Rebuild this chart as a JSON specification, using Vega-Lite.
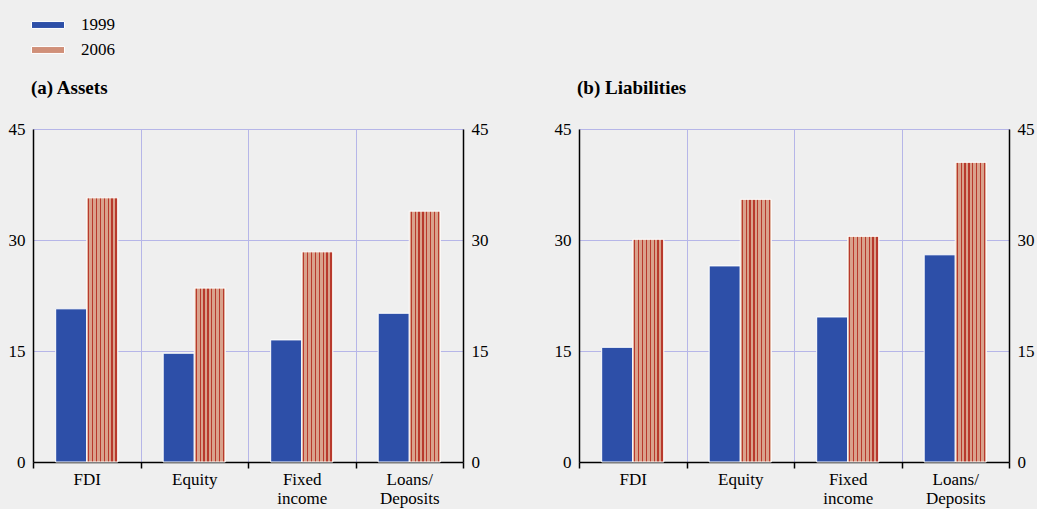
{
  "$schema": "https://vega.github.io/schema/vega-lite/v6.json",
  "background": "#efefef",
  "padding": {"left": 8, "top": 8, "right": 8, "bottom": 6},
  "autosize": {"type": "pad"},
  "config": {
    "view": {"stroke": null},
    "font": "Liberation Serif",
    "axis": {
      "labelFont": "Liberation Serif",
      "labelFontSize": 17,
      "labelColor": "black",
      "domainColor": "black",
      "gridColor": "#b6b6e8",
      "title": null
    }
  },
  "data": {
    "values": [
      {"panel": "Assets", "cat": "FDI", "year": "1999", "value": 20.7},
      {"panel": "Assets", "cat": "FDI", "year": "2006", "value": 35.7},
      {"panel": "Assets", "cat": "Equity", "year": "1999", "value": 14.7},
      {"panel": "Assets", "cat": "Equity", "year": "2006", "value": 23.5},
      {"panel": "Assets", "cat": "Fixed income", "year": "1999", "value": 16.5},
      {"panel": "Assets", "cat": "Fixed income", "year": "2006", "value": 28.4},
      {"panel": "Assets", "cat": "Loans/Deposits", "year": "1999", "value": 20.1},
      {"panel": "Assets", "cat": "Loans/Deposits", "year": "2006", "value": 33.9},
      {"panel": "Liabilities", "cat": "FDI", "year": "1999", "value": 15.5},
      {"panel": "Liabilities", "cat": "FDI", "year": "2006", "value": 30.1},
      {"panel": "Liabilities", "cat": "Equity", "year": "1999", "value": 26.5},
      {"panel": "Liabilities", "cat": "Equity", "year": "2006", "value": 35.5},
      {"panel": "Liabilities", "cat": "Fixed income", "year": "1999", "value": 19.6},
      {"panel": "Liabilities", "cat": "Fixed income", "year": "2006", "value": 30.5},
      {"panel": "Liabilities", "cat": "Loans/Deposits", "year": "1999", "value": 28.0},
      {"panel": "Liabilities", "cat": "Loans/Deposits", "year": "2006", "value": 40.5}
    ]
  },
  "spacing": 66,
  "hconcat": [
    {
      "width": 430,
      "height": 333,
      "transform": [{"filter": "datum.panel === 'Assets'"}],
      "title": {
        "text": "(a) Assets",
        "anchor": "start",
        "frame": "group",
        "offset": 7,
        "baseline": "alphabetic",
        "dx": -2,
        "font": "Liberation Serif",
        "fontSize": 19,
        "fontWeight": "bold",
        "color": "black"
      },
      "layer": [
        {
          "mark": {"type": "bar", "stroke": "white", "strokeWidth": 1},
          "encoding": {
            "x": {
              "field": "cat",
              "type": "nominal",
              "sort": ["FDI", "Equity", "Fixed income", "Loans/Deposits"],
              "scale": {"paddingInner": 0, "paddingOuter": 0},
              "axis": {
                "labelAngle": 0,
                "tickBand": "extent",
                "grid": true,
                "ticks": true,
                "tickColor": "black",
                "tickSize": 6,
                "tickWidth": 1.5,
                "domainWidth": 1.5,
                "labelPadding": 3,
                "labelLineHeight": 19,
                "labelExpr": "datum.label === 'Fixed income' ? ['Fixed', 'income'] : datum.label === 'Loans/Deposits' ? ['Loans/', 'Deposits'] : datum.label"
              }
            },
            "xOffset": {
              "field": "year",
              "type": "nominal",
              "scale": {"paddingInner": 0, "paddingOuter": 0.73}
            },
            "y": {
              "field": "value",
              "type": "quantitative",
              "scale": {"domain": [0, 45], "nice": false},
              "axis": {
                "orient": "left",
                "values": [0, 15, 30, 45],
                "grid": true,
                "ticks": false,
                "domainWidth": 1.5,
                "labelPadding": 8
              }
            },
            "fill": {
              "condition": {
                "test": "datum.year === '2006'",
                "value": {
                  "gradient": "linear", "x1": 0, "y1": 0, "x2": 1, "y2": 0,
                  "stops": [
                    {"offset": 0, "color": "#d9a28c"}, {"offset": 0.045, "color": "#d9a28c"},
                    {"offset": 0.045, "color": "#b8392c"}, {"offset": 0.085, "color": "#b8392c"},
                    {"offset": 0.085, "color": "#d9a28c"}, {"offset": 0.17, "color": "#d9a28c"},
                    {"offset": 0.17, "color": "#b8392c"}, {"offset": 0.21, "color": "#b8392c"},
                    {"offset": 0.21, "color": "#d9a28c"}, {"offset": 0.295, "color": "#d9a28c"},
                    {"offset": 0.295, "color": "#b8392c"}, {"offset": 0.335, "color": "#b8392c"},
                    {"offset": 0.335, "color": "#d9a28c"}, {"offset": 0.42, "color": "#d9a28c"},
                    {"offset": 0.42, "color": "#b8392c"}, {"offset": 0.46, "color": "#b8392c"},
                    {"offset": 0.46, "color": "#d9a28c"}, {"offset": 0.545, "color": "#d9a28c"},
                    {"offset": 0.545, "color": "#b8392c"}, {"offset": 0.585, "color": "#b8392c"},
                    {"offset": 0.585, "color": "#d9a28c"}, {"offset": 0.67, "color": "#d9a28c"},
                    {"offset": 0.67, "color": "#b8392c"}, {"offset": 0.71, "color": "#b8392c"},
                    {"offset": 0.71, "color": "#d9a28c"}, {"offset": 0.795, "color": "#d9a28c"},
                    {"offset": 0.795, "color": "#b8392c"}, {"offset": 0.835, "color": "#b8392c"},
                    {"offset": 0.835, "color": "#d9a28c"}, {"offset": 0.92, "color": "#d9a28c"},
                    {"offset": 0.92, "color": "#b8392c"}, {"offset": 0.96, "color": "#b8392c"},
                    {"offset": 0.96, "color": "#d9a28c"}, {"offset": 1, "color": "#d9a28c"}
                  ]
                }
              },
              "value": "#2d4fa8"
            }
          }
        },
        {
          "mark": {"type": "point", "opacity": 0, "filled": true},
          "encoding": {
            "y": {
              "field": "value",
              "type": "quantitative",
              "scale": {"domain": [0, 45], "nice": false},
              "axis": {
                "orient": "right",
                "values": [0, 15, 30, 45],
                "grid": false,
                "ticks": false,
                "domainWidth": 1.5,
                "labelPadding": 8
              }
            },
            "color": {
              "field": "year",
              "type": "nominal",
              "scale": {"domain": ["1999", "2006"], "range": ["#2d4fa8", "#d09079"]},
              "legend": {
                "orient": "none",
                "legendX": -2,
                "legendY": -121,
                "direction": "vertical",
                "title": null,
                "symbolType": "M-1,-0.21H1V0.21H-1Z",
                "symbolSize": 1089,
                "symbolOpacity": 1,
                "symbolStrokeColor": "white",
                "symbolStrokeWidth": 1,
                "labelFont": "Liberation Serif",
                "labelFontSize": 17,
                "labelColor": "black",
                "labelOffset": 16,
                "rowPadding": -16
              }
            }
          }
        }
      ],
      "resolve": {"axis": {"y": "independent"}}
    },
    {
      "width": 430,
      "height": 333,
      "transform": [{"filter": "datum.panel === 'Liabilities'"}],
      "title": {
        "text": "(b) Liabilities",
        "anchor": "start",
        "frame": "group",
        "offset": 7,
        "baseline": "alphabetic",
        "dx": -2,
        "font": "Liberation Serif",
        "fontSize": 19,
        "fontWeight": "bold",
        "color": "black"
      },
      "layer": [
        {
          "mark": {"type": "bar", "stroke": "white", "strokeWidth": 1},
          "encoding": {
            "x": {
              "field": "cat",
              "type": "nominal",
              "sort": ["FDI", "Equity", "Fixed income", "Loans/Deposits"],
              "scale": {"paddingInner": 0, "paddingOuter": 0},
              "axis": {
                "labelAngle": 0,
                "tickBand": "extent",
                "grid": true,
                "ticks": true,
                "tickColor": "black",
                "tickSize": 6,
                "tickWidth": 1.5,
                "domainWidth": 1.5,
                "labelPadding": 3,
                "labelLineHeight": 19,
                "labelExpr": "datum.label === 'Fixed income' ? ['Fixed', 'income'] : datum.label === 'Loans/Deposits' ? ['Loans/', 'Deposits'] : datum.label"
              }
            },
            "xOffset": {
              "field": "year",
              "type": "nominal",
              "scale": {"paddingInner": 0, "paddingOuter": 0.73}
            },
            "y": {
              "field": "value",
              "type": "quantitative",
              "scale": {"domain": [0, 45], "nice": false},
              "axis": {
                "orient": "left",
                "values": [0, 15, 30, 45],
                "grid": true,
                "ticks": false,
                "domainWidth": 1.5,
                "labelPadding": 8
              }
            },
            "fill": {
              "condition": {
                "test": "datum.year === '2006'",
                "value": {
                  "gradient": "linear", "x1": 0, "y1": 0, "x2": 1, "y2": 0,
                  "stops": [
                    {"offset": 0, "color": "#d9a28c"}, {"offset": 0.045, "color": "#d9a28c"},
                    {"offset": 0.045, "color": "#b8392c"}, {"offset": 0.085, "color": "#b8392c"},
                    {"offset": 0.085, "color": "#d9a28c"}, {"offset": 0.17, "color": "#d9a28c"},
                    {"offset": 0.17, "color": "#b8392c"}, {"offset": 0.21, "color": "#b8392c"},
                    {"offset": 0.21, "color": "#d9a28c"}, {"offset": 0.295, "color": "#d9a28c"},
                    {"offset": 0.295, "color": "#b8392c"}, {"offset": 0.335, "color": "#b8392c"},
                    {"offset": 0.335, "color": "#d9a28c"}, {"offset": 0.42, "color": "#d9a28c"},
                    {"offset": 0.42, "color": "#b8392c"}, {"offset": 0.46, "color": "#b8392c"},
                    {"offset": 0.46, "color": "#d9a28c"}, {"offset": 0.545, "color": "#d9a28c"},
                    {"offset": 0.545, "color": "#b8392c"}, {"offset": 0.585, "color": "#b8392c"},
                    {"offset": 0.585, "color": "#d9a28c"}, {"offset": 0.67, "color": "#d9a28c"},
                    {"offset": 0.67, "color": "#b8392c"}, {"offset": 0.71, "color": "#b8392c"},
                    {"offset": 0.71, "color": "#d9a28c"}, {"offset": 0.795, "color": "#d9a28c"},
                    {"offset": 0.795, "color": "#b8392c"}, {"offset": 0.835, "color": "#b8392c"},
                    {"offset": 0.835, "color": "#d9a28c"}, {"offset": 0.92, "color": "#d9a28c"},
                    {"offset": 0.92, "color": "#b8392c"}, {"offset": 0.96, "color": "#b8392c"},
                    {"offset": 0.96, "color": "#d9a28c"}, {"offset": 1, "color": "#d9a28c"}
                  ]
                }
              },
              "value": "#2d4fa8"
            }
          }
        },
        {
          "mark": {"type": "point", "opacity": 0},
          "encoding": {
            "y": {
              "field": "value",
              "type": "quantitative",
              "scale": {"domain": [0, 45], "nice": false},
              "axis": {
                "orient": "right",
                "values": [0, 15, 30, 45],
                "grid": false,
                "ticks": false,
                "domainWidth": 1.5,
                "labelPadding": 8
              }
            }
          }
        }
      ],
      "resolve": {"axis": {"y": "independent"}}
    }
  ]
}
